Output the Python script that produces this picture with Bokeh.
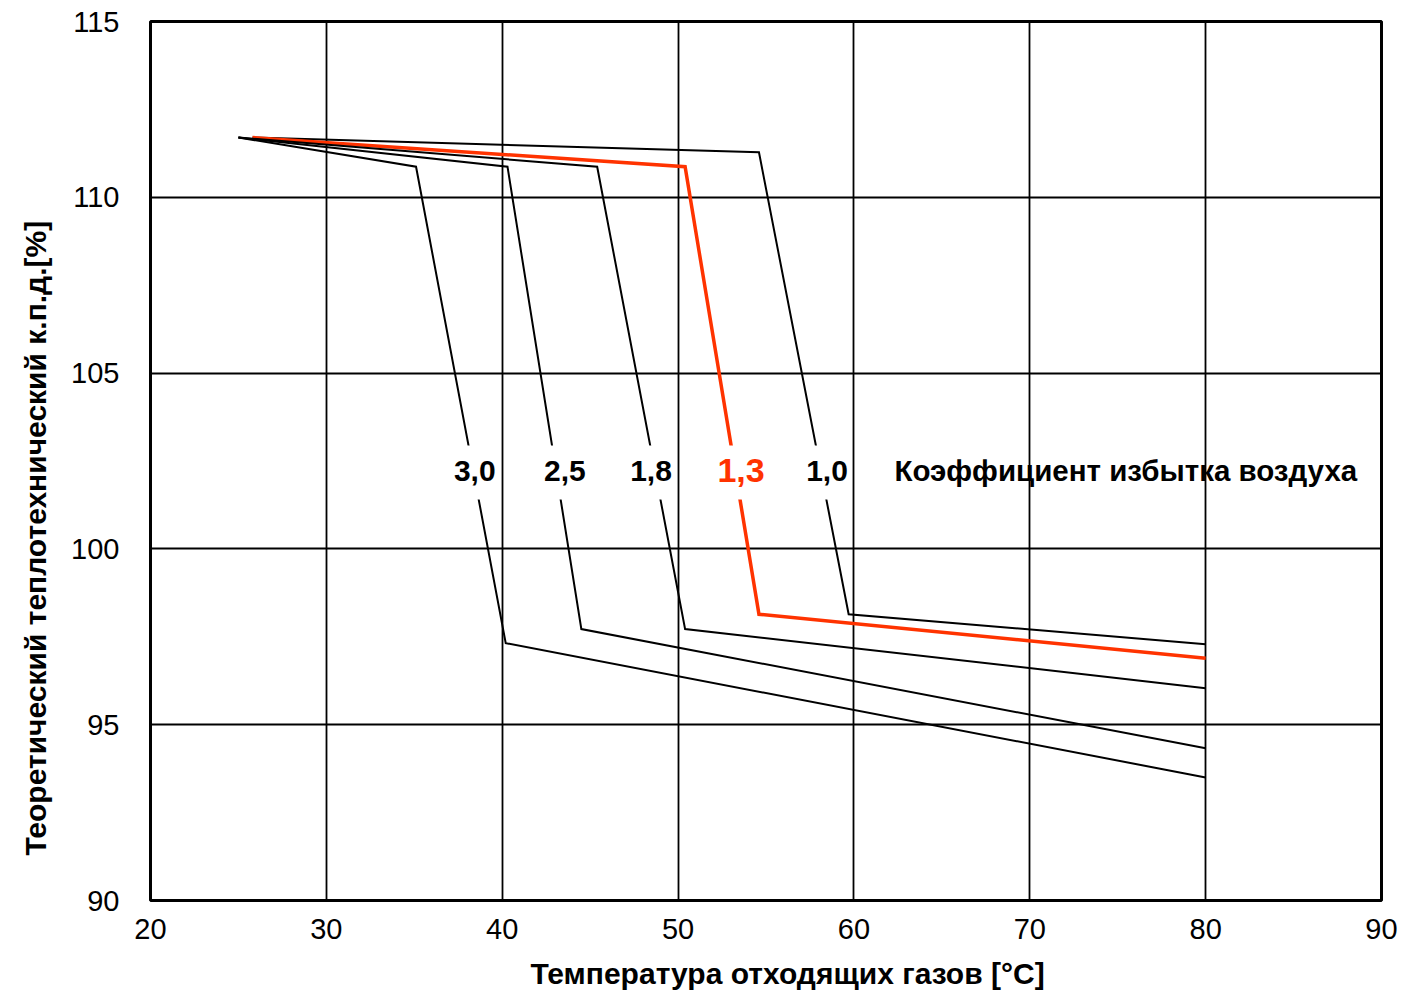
from bokeh.plotting import figure
from bokeh.models import Range1d, FixedTicker, Label, ColumnDataSource, Title
from bokeh.embed import file_html
from bokeh.resources import INLINE

# Excess air coefficient curves: temperature (°C) vs theoretical efficiency (%)
series_names = ["1,0", "1,3", "1,8", "2,5", "3,0"]
t_10 = [25.8, 54.6, 59.7, 80.0]
e_10 = [111.7, 111.28, 98.14, 97.29]
t_13 = [25.8, 50.4, 54.6, 80.0]
e_13 = [111.7, 110.87, 98.14, 96.89]
t_18 = [25.0, 45.4, 50.4, 80.0]
e_18 = [111.7, 110.87, 97.72, 96.04]
t_25 = [25.0, 40.3, 44.5, 80.0]
e_25 = [111.7, 110.87, 97.72, 94.33]
t_30 = [25.0, 35.1, 40.2, 80.0]
e_30 = [111.7, 110.87, 97.32, 93.50]

x_ticks = [20, 30, 40, 50, 60, 70, 80, 90]
y_ticks = [90, 95, 100, 105, 110, 115]

label_x = [58.47, 53.58, 48.46, 43.56, 38.44]
label_y = 102.22
legend_title = "Коэффициент избытка воздуха"
x_title = "Температура отходящих газов [°C]"
y_title = "Теоретический теплотехнический к.п.д.[%]"

p = figure(width=1401, height=1003, output_backend="svg", toolbar_location=None,
           x_range=Range1d(20, 90), y_range=Range1d(90, 115),
           min_border_left=150, min_border_right=20, min_border_top=21, min_border_bottom=103)
p.background_fill_color = "white"
p.border_fill_color = "white"
p.outline_line_color = "black"
p.outline_line_width = 3

for ax in (p.xaxis, p.yaxis):
    ax.axis_line_color = None
    ax.major_tick_line_color = None
    ax.minor_tick_line_color = None
    ax.major_label_text_font_size = "29px"
    ax.major_label_text_font = "Liberation Sans"
    ax.major_label_text_color = "black"

p.xaxis.ticker = FixedTicker(ticks=x_ticks)
p.yaxis.ticker = FixedTicker(ticks=y_ticks)
p.xaxis.major_label_standoff = 12
p.yaxis.major_label_standoff = 25

p.xgrid.grid_line_color = "black"
p.ygrid.grid_line_color = "black"
p.xgrid.grid_line_width = 1.8
p.ygrid.grid_line_width = 1.8

xs = [t_10, t_13, t_18, t_25, t_30]
ys = [e_10, e_13, e_18, e_25, e_30]
colors = ["black", "#FF3300", "black", "black", "black"]
widths = [2, 3.5, 2, 2, 2]
for x, y, c, w in zip(xs, ys, colors, widths):
    p.line(x, y, line_color=c, line_width=w, line_join="miter")

# white masks where labels interrupt the curves
mask = ColumnDataSource(dict(x=label_x, y=[label_y - 0.05] * len(label_x)))
p.rect(x="x", y="y", width=36, height=54, width_units="screen", height_units="screen",
       source=mask, fill_color="white", line_color=None)

for name, lx, c in zip(series_names, label_x, colors):
    is_red = c != "black"
    p.add_layout(Label(x=lx, y=label_y, text=name, text_align="center", text_baseline="middle",
                       text_font="Liberation Sans", text_font_style="bold",
                       text_font_size="34px" if is_red else "30px", text_color=c))

p.add_layout(Label(x=62.3, y=label_y, text=legend_title, text_align="left", text_baseline="middle",
                   text_font="Liberation Sans", text_font_style="bold", text_font_size="29.5px",
                   text_color="black"))

# axis titles as side titles (off-centre like the reference)
p.add_layout(Title(text=x_title, align="left", offset=380, standoff=27,
                   text_font="Liberation Sans", text_font_style="bold", text_font_size="30px",
                   text_color="black"), "below")
p.add_layout(Title(text=y_title, align="left", offset=45, standoff=33,
                   text_font="Liberation Sans", text_font_style="bold", text_font_size="30px",
                   text_color="black"), "left")

open("out.html", "w").write(file_html(p, INLINE))
